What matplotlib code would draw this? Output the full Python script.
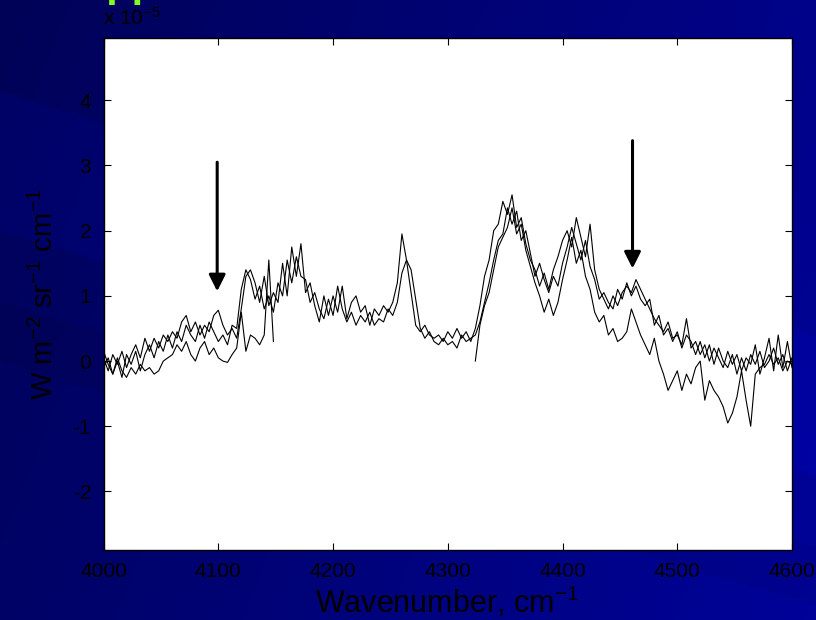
import numpy as np
import matplotlib
matplotlib.use("Agg")
import matplotlib.pyplot as plt

plt.rcParams['font.family'] = ['Liberation Sans', 'DejaVu Sans']
plt.rcParams['mathtext.fontset'] = 'custom'
plt.rcParams['mathtext.rm'] = 'Liberation Sans'
plt.rcParams['mathtext.it'] = 'Liberation Sans:italic'
plt.rcParams['mathtext.default'] = 'regular'
plt.rcParams['axes.unicode_minus'] = False

# wavenumber grid, cm^-1
wavenumber = np.arange(4000, 4601, 4)

# radiance, units of 1e-5 W m^-2 sr^-1 cm^-1
spec_a = [
    0.05, -0.15, 0.10, -0.05, 0.15, -0.10, 0.10, 0.25, 0.05, 0.35,
    0.15, 0.35, 0.20, 0.40, 0.30, 0.45, 0.35, 0.60, 0.70, 0.45,
    0.60, 0.40, 0.55, 0.45, 0.70, 0.78, 0.55, 0.40, 0.50, 0.35,
    0.80, 1.30, 1.40, 1.20, 0.90, 1.30, 0.85, 1.05, 0.90, 1.50,
    1.00, 1.75, 1.30, 1.80, 1.05, 1.20, 0.85, 0.60, 1.00, 0.70,
    1.00, 0.75, 1.15, 0.65, 0.90, 1.00, 0.75, 0.85, 0.55, 0.80,
    0.70, 0.85, 0.75, 0.90, 1.20, 1.95, 1.55, 1.05, 0.55, 0.45,
    0.55, 0.40, 0.35, 0.40, 0.30, 0.45, 0.35, 0.50, 0.35, 0.45,
    0.30, 0.50, 0.85, 1.30, 1.55, 2.00, 2.10, 2.45, 2.25, 2.55,
    2.05, 2.20, 1.80, 1.55, 1.40, 1.15, 1.35, 1.10, 1.40, 1.60,
    1.85, 2.00, 1.75, 2.20, 1.90, 1.60, 2.10, 1.40, 1.10, 0.95,
    0.80, 1.00, 0.85, 1.05, 1.15, 1.05, 1.25, 1.10, 0.95, 0.80,
    0.65, 0.55, 0.45, 0.60, 0.35, 0.40, 0.25, 0.65, 0.20, 0.30,
    0.10, 0.25, 0.00, 0.20, 0.05, -0.10, 0.15, -0.05, 0.10, -0.15,
    0.05, -0.05, 0.25, -0.20, 0.05, 0.35, -0.15, 0.40, -0.10, 0.30,
    -0.10,
]
spec_b = [
    -0.10, 0.05, -0.20, 0.00, -0.25, 0.10, -0.05, 0.15, -0.15, 0.10,
    0.25, 0.05, 0.30, 0.15, 0.40, 0.20, 0.45, 0.30, 0.55, 0.40,
    0.30, 0.55, 0.35, 0.60, 0.45, 0.30, 0.40, 0.25, 0.55, 0.50,
    1.10, 1.40, 1.25, 0.95, 1.15, 0.80, 1.00, 0.75, 1.20, 1.00,
    1.55, 1.20, 1.60, 1.30, 1.25, 0.90, 1.05, 0.80, 0.65, 0.95,
    0.70, 1.15, 0.80, 0.60, 0.75, 0.55, 0.70, 0.60, 0.75, 0.55,
    0.65, 0.60, 0.80, 0.70, 0.90, 1.35, 1.55, 1.40, 0.95, 0.50,
    0.35, 0.45, 0.30, 0.25, 0.35, 0.25, 0.30, 0.20, 0.40, 0.30,
    0.35, 0.40, 0.60, 0.90, 1.20, 1.55, 1.85, 1.95, 2.35, 2.10,
    2.30, 1.85, 2.00, 1.65, 1.30, 1.50, 1.25, 1.05, 1.30, 1.15,
    1.50, 1.75, 2.05, 1.80, 1.55, 1.85, 1.45, 1.25, 0.95, 1.05,
    0.90, 0.80, 1.10, 0.95, 1.20, 1.00, 1.15, 0.95, 0.85, 0.95,
    0.55, 0.70, 0.40, 0.50, 0.30, 0.45, 0.20, 0.40, 0.30, 0.10,
    0.30, 0.05, 0.25, -0.05, 0.20, 0.00, -0.10, 0.10, -0.20, 0.05,
    -0.15, 0.10, -0.05, 0.15, -0.10, 0.00, 0.20, -0.05, 0.10, -0.15,
    0.05,
]
nan = np.nan
spec_c = [
    0.15, -0.05, -0.20, 0.05, -0.15, -0.25, -0.10, -0.20, -0.05, -0.15,
    -0.10, -0.20, -0.15, 0.00, 0.05, 0.10, 0.25, 0.15, 0.30, 0.10,
    0.00, 0.20, 0.30, 0.10, 0.20, 0.05, 0.00, -0.02, 0.10, 0.20,
    0.75, 0.15, 0.40, 0.35, 0.25, 0.40, 1.55, 0.30, nan, nan,
    nan, nan, nan, nan, nan, nan, nan, nan, nan, nan,
    nan, nan, nan, nan, nan, nan, nan, nan, nan, nan,
    nan, nan, nan, nan, nan, nan, nan, nan, nan, nan,
    nan, nan, nan, nan, nan, nan, nan, nan, nan, nan,
    nan, 0.00, 0.55, 0.85, 1.05, 1.40, 1.75, 1.90, 2.05, 2.35,
    1.95, 2.10, 1.70, 1.45, 1.20, 1.00, 0.75, 0.95, 0.70, 0.90,
    1.25, 1.55, 1.90, 1.50, 1.70, 1.30, 1.10, 0.75, 0.60, 0.70,
    0.40, 0.50, 0.30, 0.35, 0.45, 0.80, 0.60, 0.40, 0.25, 0.10,
    0.35, 0.00, -0.20, -0.45, -0.30, -0.15, -0.45, -0.20, -0.35, -0.10,
    0.00, -0.60, -0.30, -0.45, -0.55, -0.70, -0.95, -0.80, -0.55, -0.15,
    -0.60, -1.00, -0.20, -0.10, -0.05, 0.10, -0.05, 0.05, -0.15, 0.00,
    -0.05,
]

arrow_x = [4099, 4461]
arrow_top = [3.05, 3.38]
arrow_tip = [1.07, 1.42]

xticks = [4000, 4100, 4200, 4300, 4400, 4500, 4600]
yticks = [-2, -1, 0, 1, 2, 3, 4]

fig = plt.figure(figsize=(8.16, 6.2), dpi=100)

# slide background: dark navy with faint diagonal bands
bg = fig.add_axes([0, 0, 1, 1], zorder=-5)
yy, xx = np.mgrid[0:620:4, 0:816:4]
t = yy - 0.3 * xx
blue = 0.34 + 0.20 * xx / 816 + 0.06 * yy / 620
blue = blue + 0.05 * ((t > 90) & (t < 230)) - 0.03 * ((t > 300) & (t < 360))
rgb = np.dstack([np.zeros_like(blue), np.zeros_like(blue) + 0.01, np.clip(blue, 0, 1)])
bg.imshow(rgb, extent=[0, 1, 0, 1], aspect='auto', interpolation='bilinear')
bg.axis('off')

ax = fig.add_axes([103.6 / 816, 1 - 549.5 / 620, (792 - 103.6) / 816, (549.5 - 37.7) / 620])
ax.set_facecolor('white')
for s in (spec_a, spec_b, spec_c):
    ax.plot(wavenumber, s, color='black', lw=0.8)

for x, top, tip in zip(arrow_x, arrow_top, arrow_tip):
    ax.annotate('', xy=(x, tip), xytext=(x, top),
                arrowprops=dict(arrowstyle='-|>,head_length=0.9,head_width=0.45',
                                mutation_scale=11, lw=2.2, color='black',
                                shrinkA=0, shrinkB=0))

ax.set_xlim(4000, 4600)
ax.set_ylim(-2.89, 4.96)
ax.set_xticks(xticks)
ax.set_yticks(yticks)
ax.tick_params(direction='in', top=True, right=True, length=5, width=0.8,
               labelsize=15, colors='black', pad=9)
for sp in ax.spines.values():
    sp.set_linewidth(1.0)

ax.set_xlabel('Wavenumber, cm$^{-1}$', fontsize=22, labelpad=3)
ax.set_ylabel('W m$^{-2}$ sr$^{-1}$ cm$^{-1}$', fontsize=21, labelpad=10)

fig.text(103 / 816, 1 - 25 / 620, 'x 10$^{-5}$', fontsize=15, va='baseline', ha='left')
# slide title, mostly above the visible area in the original
fig.text(53 / 816, 1 + 4 / 620, 'Suppression at band centres', color='#80ff20',
         fontsize=30, fontweight='bold', va='baseline', ha='left')

fig.savefig('out.png', dpi=100)
